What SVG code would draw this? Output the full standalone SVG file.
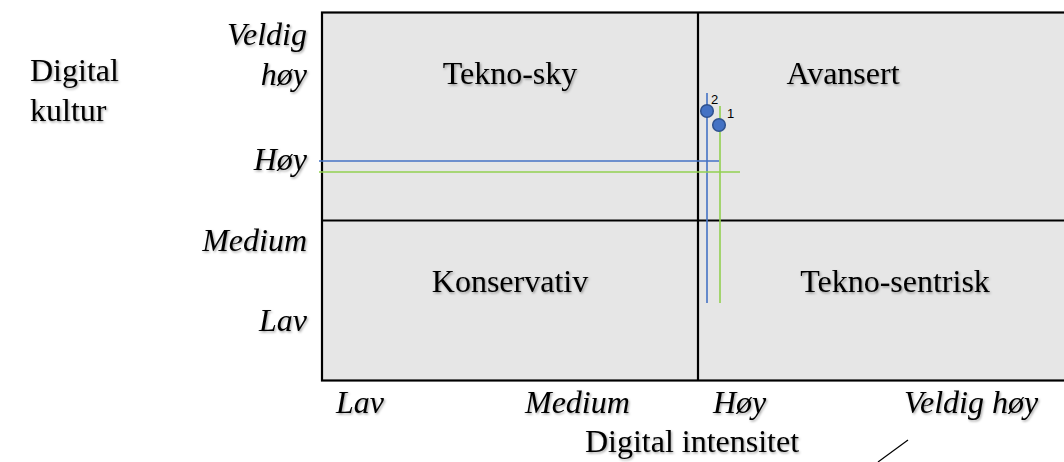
<svg xmlns="http://www.w3.org/2000/svg" width="1064" height="462" viewBox="0 0 1064 462">
  <defs>
    <filter id="shadow" x="-10%" y="-20%" width="130%" height="160%">
      <feDropShadow dx="1.2" dy="1.5" stdDeviation="1" flood-color="#000" flood-opacity="0.35"/>
    </filter>
  </defs>
  <style>
    .lbl { font-family: "Liberation Serif", "Times New Roman", serif; font-size: 32px; fill: #000; filter: url(#shadow); }
    .it { font-style: italic; }
    .num { font-family: "Liberation Sans", Arial, sans-serif; font-size: 13px; fill: #000; }
    .frame { fill: #e6e6e6; stroke: #000; stroke-width: 2.2; }
    .axis { stroke: #000; stroke-width: 2.2; fill: none; }
    .blue { stroke: #4472c4; stroke-width: 1.6; fill: none; }
    .green { stroke: #92d050; stroke-width: 1.6; fill: none; }
    .pt { fill: #4472c4; stroke: #2f528f; stroke-width: 1.5; }
  </style>

  <!-- quadrant field -->
  <g id="field">
    <rect class="frame" x="322" y="12.5" width="760" height="368"/>
    <line class="axis" x1="698" y1="12.5" x2="698" y2="380.5"/>
    <line class="axis" x1="322" y1="220.5" x2="1064" y2="220.5"/>
  </g>

  <!-- quadrant names -->
  <g id="q-tekno-sky"><text class="lbl" x="510" y="84" text-anchor="middle">Tekno-sky</text></g>
  <g id="q-avansert"><text class="lbl" x="843" y="84" text-anchor="middle">Avansert</text></g>
  <g id="q-konservativ"><text class="lbl" x="510" y="292" text-anchor="middle">Konservativ</text></g>
  <g id="q-tekno-sentrisk"><text class="lbl" x="895" y="292" text-anchor="middle">Tekno-sentrisk</text></g>

  <!-- vertical axis -->
  <g id="y-axis">
    <text class="lbl" x="30" y="81">Digital</text>
    <text class="lbl" x="30" y="121">kultur</text>
    <text class="lbl it" x="307" y="45" text-anchor="end">Veldig</text>
    <text class="lbl it" x="307" y="85" text-anchor="end">høy</text>
    <text class="lbl it" x="307" y="170" text-anchor="end">Høy</text>
    <text class="lbl it" x="307" y="251" text-anchor="end">Medium</text>
    <text class="lbl it" x="307" y="331" text-anchor="end">Lav</text>
  </g>

  <!-- horizontal axis -->
  <g id="x-axis">
    <text class="lbl it" x="336" y="413">Lav</text>
    <text class="lbl it" x="525" y="413">Medium</text>
    <text class="lbl it" x="713" y="413">Høy</text>
    <text class="lbl it" x="904" y="413">Veldig høy</text>
    <text class="lbl" x="692" y="452" text-anchor="middle">Digital intensitet</text>
  </g>

  <!-- guide lines for the two positions -->
  <g id="connectors">
    <line class="blue" x1="707" y1="93" x2="707" y2="303"/>
    <line class="blue" x1="319" y1="161" x2="719" y2="161"/>
    <line class="green" x1="720" y1="106" x2="720" y2="303"/>
    <line class="green" x1="319" y1="172" x2="740" y2="172"/>
    <line stroke="#000" stroke-width="1.2" x1="878" y1="462" x2="908" y2="440"/>
  </g>

  <!-- positions -->
  <g id="point-2">
    <circle class="pt" cx="707" cy="111" r="6.3"/>
    <text class="num" x="711" y="104">2</text>
  </g>
  <g id="point-1">
    <circle class="pt" cx="719" cy="125" r="6.3"/>
    <text class="num" x="727" y="118">1</text>
  </g>
</svg>
